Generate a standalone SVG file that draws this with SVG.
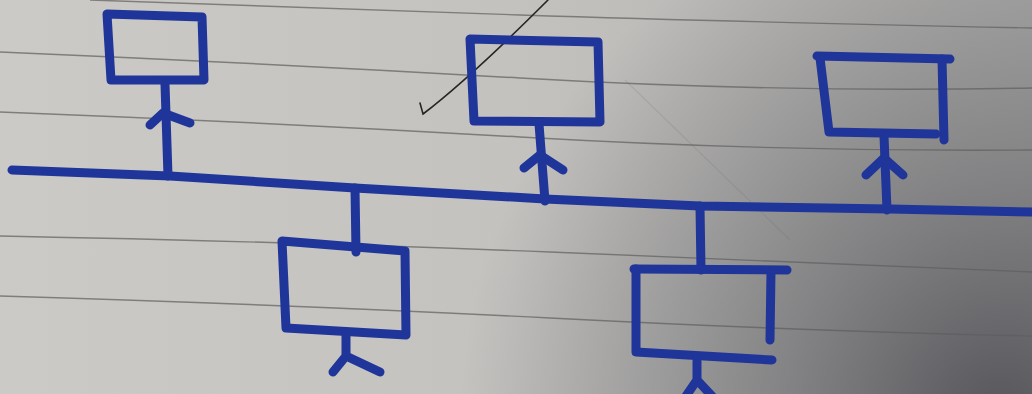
<svg xmlns="http://www.w3.org/2000/svg" width="1032" height="394" viewBox="0 0 1032 394">
<defs>
<linearGradient id="paper" x1="0" y1="0" x2="1" y2="0">
<stop offset="0" stop-color="#cbcac7"/>
<stop offset="0.5" stop-color="#c3c2bf"/>
<stop offset="1" stop-color="#aeadab"/>
</linearGradient>
<radialGradient id="shade" gradientUnits="userSpaceOnUse" cx="1000" cy="420" r="540">
<stop offset="0" stop-color="#38373e" stop-opacity="0.75"/>
<stop offset="0.55" stop-color="#4a4950" stop-opacity="0.35"/>
<stop offset="1" stop-color="#4a4950" stop-opacity="0"/>
</radialGradient>
</defs>
<style>
.rule{fill:none;stroke:#5f5e5e;stroke-width:1.4;stroke-opacity:0.7}
.faint{fill:none;stroke:#5f5e5e;stroke-width:1.2;stroke-opacity:0.15}
.ink{fill:none;stroke:#20359a;stroke-width:9;stroke-linecap:round;stroke-linejoin:round}
.pen{fill:none;stroke:#262626;stroke-width:1.6;stroke-linecap:round}
</style>
<rect width="1032" height="394" fill="url(#paper)"/>
<rect width="1032" height="394" fill="url(#shade)"/>
<g id="paper-lines">
<path class="rule" d="M90,0 Q300,8 520,15 T1032,28"/>
<path class="rule" d="M0,52 Q260,63 520,78 T1032,88"/>
<path class="rule" d="M0,112 Q260,122 520,137 T1032,150"/>
<path class="rule" d="M0,236 Q300,242 550,252 T1032,272"/>
<path class="rule" d="M0,296 Q300,305 550,318 T1032,336"/>
<path class="faint" d="M625,80 L790,240"/>
</g>
<path class="pen" d="M420,103 L423,114 Q470,78 548,0"/>
<g id="connectors">
<path class="ink" d="M12,170 L170,176 L355,188 L545,199 L700,206 L890,209 L1032,212"/>
<path class="ink" d="M165,84 L168,176"/>
<path class="ink" d="M539,124 L545,201"/>
<path class="ink" d="M884,136 L887,210"/>
<path class="ink" d="M355,188 L356,252"/>
<path class="ink" d="M700,206 L701,270"/>
</g>
<g id="node1">
<path class="ink" d="M107,14 L202,17 L204,80 L111,80 Z"/>
<path class="ink" d="M150,125 L163,113 L190,123"/>
</g>
<g id="node2">
<path class="ink" d="M470,39 L598,42 L600,122 L474,121 Z"/>
<path class="ink" d="M524,168 L540,155 L563,170"/>
</g>
<g id="node3">
<path class="ink" d="M817,56 L950,59"/>
<path class="ink" d="M820,58 L829,132 L936,134"/>
<path class="ink" d="M942,59 L944,140"/>
<path class="ink" d="M866,175 L884,158 L903,175"/>
</g>
<g id="node4">
<path class="ink" d="M282,241 L405,251 L406,335 L286,328 Z"/>
<path class="ink" d="M346,336 L346,356 M333,372 L346,356 L380,372"/>
</g>
<g id="node5">
<path class="ink" d="M634,269 L787,270"/>
<path class="ink" d="M636,269 L636,352 L772,360"/>
<path class="ink" d="M771,271 L770,340"/>
<path class="ink" d="M697,361 L697,380 M686,396 L697,380 L712,396"/>
</g>
</svg>
